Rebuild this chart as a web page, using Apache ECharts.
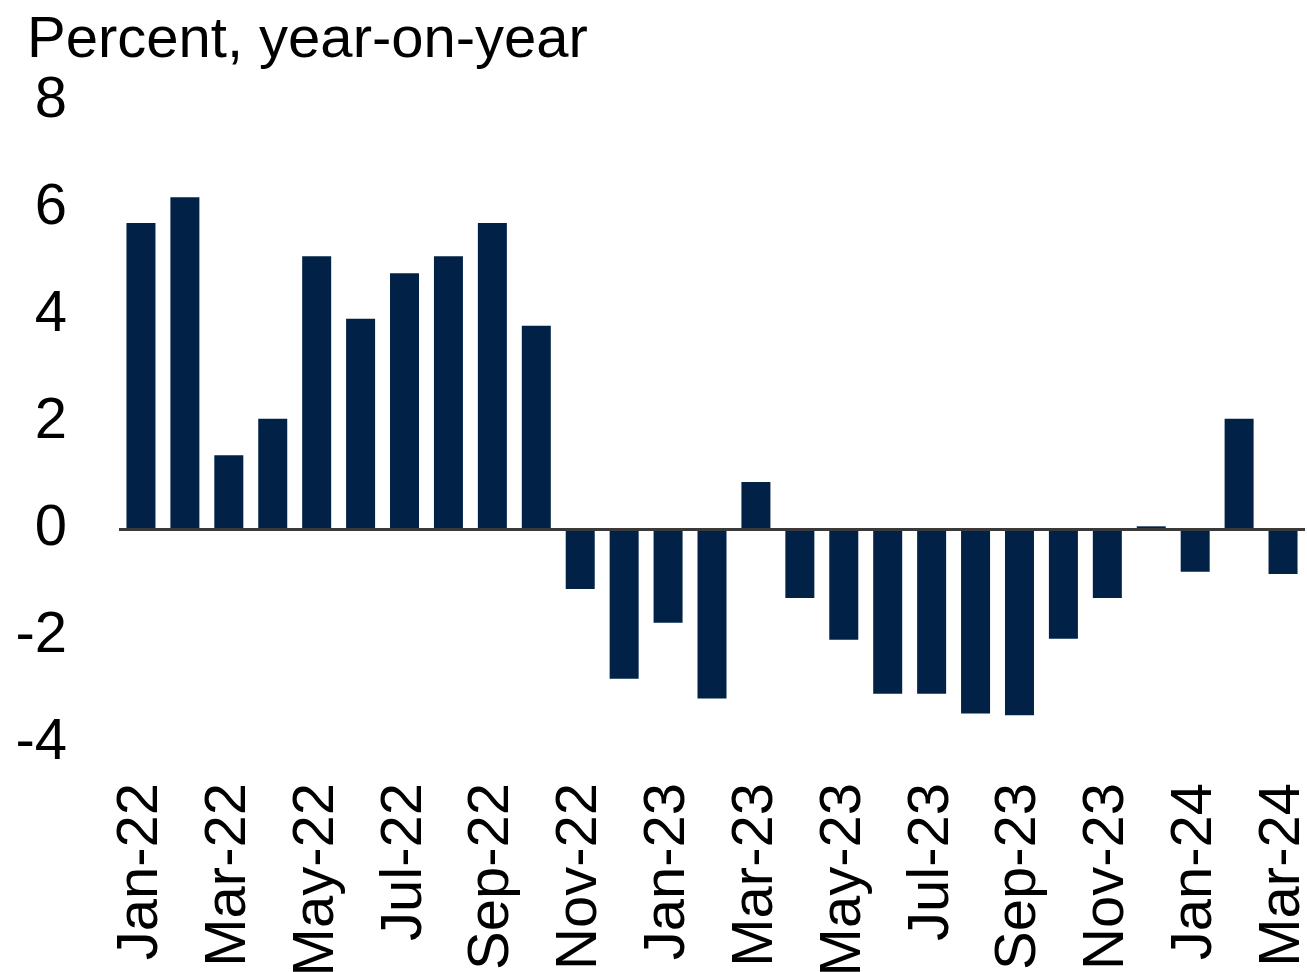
<!DOCTYPE html>
<html>
<head>
<meta charset="utf-8">
<script src="https://cdn.jsdelivr.net/npm/echarts@6/dist/echarts.min.js"></script>
<style>
    html, body { margin: 0; padding: 0; background: #fff; }
    #main { width: 1307px; height: 972px; }
</style>
</head>
<body>
<div id="main"></div>
<script>
// 月份
const months = ['Jan-22', 'Feb-22', 'Mar-22', 'Apr-22', 'May-22', 'Jun-22', 'Jul-22', 'Aug-22', 'Sep-22',
    'Oct-22', 'Nov-22', 'Dec-22', 'Jan-23', 'Feb-23', 'Mar-23', 'Apr-23', 'May-23', 'Jun-23', 'Jul-23',
    'Aug-23', 'Sep-23', 'Oct-23', 'Nov-23', 'Dec-23', 'Jan-24', 'Feb-24', 'Mar-24'];
// 同比变化 (%)
const yoy = [5.72, 6.2, 1.38, 2.06, 5.1, 3.93, 4.78, 5.1, 5.72,
    3.8, -1.12, -2.8, -1.75, -3.17, 0.88, -1.29, -2.07, -3.08, -3.08,
    -3.45, -3.48, -2.05, -1.29, 0.05, -0.8, 2.06, -0.84];
const yTicks = [-4, 8, 2];

const font = 'Liberation Sans, Arial, sans-serif';
let myChart = echarts.init(document.getElementById('main'));

let option = {
    animation: false,
    title: {
        text: 'Percent, year-on-year',
        left: 22,
        top: 7,
        textStyle: {
            fontFamily: font,
            fontSize: 58,
            fontWeight: 'normal',
            color: '#000'
        }
    },
    grid: {
        left: 119,
        right: 2,
        top: 101,
        bottom: 229,
        outerBoundsMode: 'none'
    },
    xAxis: {
        type: 'category',
        data: months,
        axisLine: { show: false },
        axisTick: { show: false },
        axisLabel: {
            interval: 1,
            rotate: 90,
            margin: 40,
            fontFamily: font,
            fontSize: 58,
            color: '#000'
        }
    },
    yAxis: {
        type: 'value',
        min: yTicks[0],
        max: yTicks[1],
        interval: yTicks[2],
        splitLine: { show: false },
        axisLine: { show: false },
        axisTick: { show: false },
        axisLabel: {
            margin: 52,
            fontFamily: font,
            fontSize: 58,
            color: '#000'
        }
    },
    series: [{
        type: 'bar',
        data: yoy,
        barWidth: 29,
        itemStyle: { color: '#012246' },
        markLine: {
            silent: true,
            symbol: 'none',
            label: { show: false },
            lineStyle: { color: '#3a3a3a', width: 3, type: 'solid' },
            data: [{ yAxis: 0 }]
        }
    }]
};
myChart.setOption(option);
</script>
</body>
</html>
